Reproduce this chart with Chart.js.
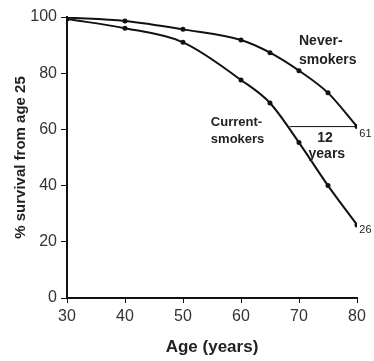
<!DOCTYPE html>
<html lang="en">
<head>
	<meta charset="UTF-8">
	<title>Survival from age 25</title>
	<script src="https://cdn.jsdelivr.net/npm/chart.js"></script>
	<style>
		body { margin: 0; padding: 0; background: #fff; }
		#wrap { width: 374px; height: 361px; }
	</style>
</head>
<body>
	<div id="wrap"><canvas id="survivalChart" width="374" height="361"></canvas></div>
	<script>
		// Data
		const ages = [30, 40, 50, 60, 65, 70, 75, 80];
		const neverSmokers = [99.8, 98.6, 95.6, 91.8, 87.3, 80.9, 73, 61];
		const currentSmokers = [99.3, 96, 91, 77.6, 69.4, 55.3, 40, 26];
		const gapAges = [68.4, 80];
		const gapLevel = 61;
		const xTicks = [30, 40, 50, 60, 70, 80];
		const yTicks = [0, 20, 40, 60, 80, 100];

		function toPoints(xs, ys) {
			return xs.map((x, i) => ({ x: x, y: ys[i] }));
		}

		// Text annotations, anchored in data coordinates
		const notes = [
			{ lines: ['Never-', 'smokers'], x: 70, y: 91.5, font: 'bold 14px Arial', align: 'left', step: 19 },
			{ lines: ['Current-', 'smokers'], x: 54.8, y: 62.6, font: 'bold 13px Arial', align: 'left', step: 17 },
			{ lines: ['12'], x: 74.5, y: 57, font: 'bold 14px Arial', align: 'center', step: 0 },
			{ lines: ['years'], x: 74.8, y: 51.2, font: 'bold 14px Arial', align: 'center', step: 0 },
			{ lines: ['61'], x: 80.4, y: 58.4, font: '11px Arial', align: 'left', step: 0 },
			{ lines: ['26'], x: 80.4, y: 24.3, font: '11px Arial', align: 'left', step: 0 }
		];

		const notePlugin = {
			id: 'notes',
			afterDatasetsDraw(chart) {
				const ctx = chart.ctx;
				const xs = chart.scales.x, ys = chart.scales.y;
				ctx.save();
				ctx.fillStyle = '#222';
				ctx.textBaseline = 'middle';
				notes.forEach(n => {
					ctx.font = n.font;
					ctx.textAlign = n.align;
					n.lines.forEach((t, i) => {
						ctx.fillText(t, xs.getPixelForValue(n.x), ys.getPixelForValue(n.y) + i * n.step);
					});
				});
				ctx.restore();
			}
		};

		const lineStyle = {
			borderColor: '#111',
			backgroundColor: '#111',
			borderWidth: 2,
			pointRadius: 1.5,
			pointHoverRadius: 1.5,
			cubicInterpolationMode: 'monotone',
			fill: false
		};

		new Chart(document.getElementById('survivalChart').getContext('2d'), {
			type: 'line',
			data: {
				datasets: [
					Object.assign({ label: 'Never-smokers', data: toPoints(ages, neverSmokers) }, lineStyle),
					Object.assign({ label: 'Current-smokers', data: toPoints(ages, currentSmokers) }, lineStyle),
					{
						label: 'gap',
						data: toPoints(gapAges, [gapLevel, gapLevel]),
						borderColor: '#111',
						borderWidth: 1,
						pointRadius: 0,
						fill: false
					}
				]
			},
			options: {
				responsive: false,
				animation: false,
				layout: { padding: { top: 17, right: 17, left: 0, bottom: 0 } },
				plugins: {
					legend: { display: false },
					tooltip: { enabled: false }
				},
				scales: {
					x: {
						type: 'linear',
						min: 30,
						max: 80,
						afterFit: s => { s.height = 63; },
						afterBuildTicks: s => { s.ticks = xTicks.map(v => ({ value: v })); },
						grid: { drawOnChartArea: false, drawTicks: true, tickLength: 5, color: '#111', lineWidth: 1 },
						border: { color: '#111', width: 2 },
						ticks: { color: '#333', font: { family: 'Arial', size: 16 }, padding: 4 },
						title: {
							display: true,
							text: 'Age (years)',
							color: '#222',
							font: { family: 'Arial', size: 17, weight: 'bold' },
							padding: { bottom: 3, top: 0 }
						}
					},
					y: {
						min: 0,
						max: 100,
						afterFit: s => { s.width = 67; },
						afterBuildTicks: s => { s.ticks = yTicks.map(v => ({ value: v })); },
						grid: { drawOnChartArea: false, drawTicks: true, tickLength: 6, color: '#111', lineWidth: 1 },
						border: { color: '#111', width: 2 },
						ticks: { color: '#333', font: { family: 'Arial', size: 16 }, padding: 4 },
						title: {
							display: true,
							text: '% survival from age 25',
							color: '#222',
							font: { family: 'Arial', size: 15, weight: 'bold' },
							padding: { top: 12, bottom: 0 }
						}
					}
				}
			},
			plugins: [notePlugin]
		});
	</script>
</body>
</html>
